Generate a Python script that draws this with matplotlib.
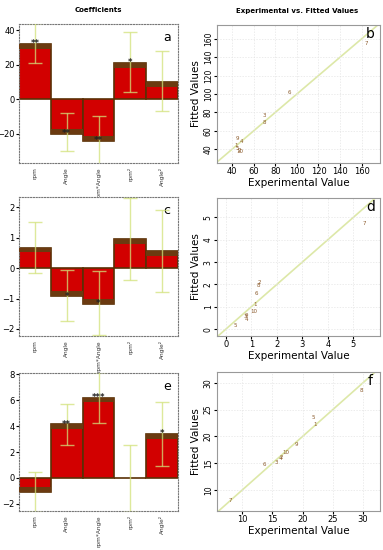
import numpy as np
import matplotlib
matplotlib.use("Agg")
import matplotlib.pyplot as plt

W, H = 383, 550

# coefficient panels (a, c, e)
terms = ["rpm", "Angle", "rpm*Angle", "rpm\u00b2", "Angle\u00b2"]

coef_a = [32, -20, -24, 21, 10]
low_a = [21, -30, -38, 4, -7]
high_a = [44, -8, -10, 39, 28]
stars_a = ["**", "**", "**", "*", ""]

coef_c = [0.67, -0.92, -1.17, 0.95, 0.55]
low_c = [-0.15, -1.75, -2.2, -0.38, -0.78]
high_c = [1.5, -0.07, -0.1, 2.3, 1.9]
stars_c = ["", "*", "*", "", ""]

coef_e = [-1.1, 4.15, 6.2, 0.0, 3.4]
low_e = [-2.6, 2.55, 4.25, -2.6, 0.9]
high_e = [0.45, 5.7, 8.2, 2.55, 5.9]
stars_e = ["", "**", "***", "", "*"]

# experimental vs fitted panels (b, d, f)
run_ids = ["1", "2", "3", "4", "5", "6", "7", "8", "9", "10"]
exp_b = [44, 46.5, 70, 49, 44.5, 93, 164, 70, 45, 47.5]
fit_b = [44.5, 38.5, 77, 48, 40.5, 102, 155, 69, 52, 37.5]

exp_d = [1.15, 1.3, 0.78, 0.8, 0.35, 1.2, 5.45, 1.28, 0.82, 1.1]
fit_d = [1.1, 2.1, 0.55, 0.45, 0.15, 1.6, 4.75, 1.95, 0.6, 0.8]

exp_f = [22.0, 16.5, 15.7, 16.4, 21.8, 13.6, 8.0, 29.8, 19.0, 17.2]
fit_f = [22.3, 16.0, 15.2, 15.8, 23.5, 14.8, 8.0, 28.5, 18.5, 17.0]


def px_axes(fig, x0, y0, x1, y1):
    return fig.add_axes([x0 / W, 1 - y1 / H, (x1 - x0) / W, (y1 - y0) / H])


def coef_panel(ax, coef, low, high, stars, ylim, yticks, letter):
    x = np.arange(len(terms))
    ax.bar(x, coef, width=1.0, color="#d20000", edgecolor="#5a3005",
           linewidth=1.2, zorder=2)
    # darker band at the end of each bar
    band = (ylim[1] - ylim[0]) * 0.035
    for xi, c in zip(x, coef):
        if c == 0:
            continue
        sgn = np.sign(c)
        ax.bar(xi, -sgn * band, bottom=c, width=1.0, color="#6b3a10",
               linewidth=0, zorder=3)
    c = np.array(coef)
    err = [c - np.array(low), np.array(high) - c]
    ax.errorbar(x, c, yerr=err, fmt="none", ecolor="#d2e27a", alpha=0.75,
                elinewidth=1.0, capsize=5, capthick=1.0, zorder=4)
    for xi, ci, s in zip(x, coef, stars):
        if s:
            ax.text(xi, ci, s, ha="center", va="center", fontsize=6,
                    fontweight="bold", color="#222222", zorder=5)
    ax.set_xlim(-0.5, len(terms) - 0.5)
    ax.set_ylim(*ylim)
    ax.set_yticks(yticks)
    ax.set_xticks(x)
    ax.set_xticklabels(terms, rotation=90, fontsize=4.2, color="#333333")
    ax.tick_params(axis="y", labelsize=6, length=2, pad=1)
    ax.tick_params(axis="x", length=0, pad=3)
    for sp in ax.spines.values():
        sp.set_linestyle((0, (1, 1.5)))
        sp.set_color("#777777")
        sp.set_linewidth(0.8)
    ax.text(0.93, 0.9, letter, transform=ax.transAxes, fontsize=9,
            ha="center", va="center")


def fit_panel(ax, ex, fi, xlim, ylim, ticks_x, ticks_y, letter):
    ax.set_xlim(*xlim)
    ax.set_ylim(*ylim)
    lo = min(xlim[0], ylim[0])
    hi = max(xlim[1], ylim[1])
    ax.plot([lo, hi], [lo, hi], color="#dde8a8", linewidth=1.2, zorder=1)
    for e, f, lab in zip(ex, fi, run_ids):
        ax.text(e, f, lab, fontsize=4, color="#8b5a2b", ha="center",
                va="center", zorder=3)
    ax.set_xticks(ticks_x)
    ax.set_yticks(ticks_y)
    ax.grid(True, color="#e4e4e4", linewidth=0.5, linestyle=(0, (2, 2)))
    ax.tick_params(axis="x", labelsize=6, length=2, pad=1)
    ax.tick_params(axis="y", labelsize=5.5, length=2, pad=1, labelrotation=90)
    for lab in ax.get_yticklabels():
        lab.set_va("center")
    for sp in ax.spines.values():
        sp.set_color("#999999")
        sp.set_linewidth(0.8)
    ax.set_xlabel("Experimental Value", fontsize=7.5, labelpad=1)
    ax.set_ylabel("Fitted Values", fontsize=7.5, labelpad=2)
    ax.text(0.94, 0.935, letter, transform=ax.transAxes, fontsize=10,
            ha="center", va="center")


fig = plt.figure(figsize=(W / 100, H / 100), dpi=100)

ax_a = px_axes(fig, 19, 24, 178, 163)
coef_panel(ax_a, coef_a, low_a, high_a, stars_a, (-37, 43.5), [-20, 0, 20, 40], "a")
ax_c = px_axes(fig, 19, 197, 178, 336)
coef_panel(ax_c, coef_c, low_c, high_c, stars_c, (-2.23, 2.33), [-2, -1, 0, 1, 2], "c")
ax_e = px_axes(fig, 19, 373, 178, 511)
coef_panel(ax_e, coef_e, low_e, high_e, stars_e, (-2.55, 8.1), [-2, 0, 2, 4, 6, 8], "e")

ax_b = px_axes(fig, 217, 25, 380, 163)
fit_panel(ax_b, exp_b, fit_b, (26, 177), (25, 175),
          [40, 60, 80, 100, 120, 140, 160], [40, 60, 80, 100, 120, 140, 160], "b")
ax_d = px_axes(fig, 217, 198, 380, 336)
fit_panel(ax_d, exp_d, fit_d, (-0.35, 6.05), (-0.31, 5.87),
          [0, 1, 2, 3, 4, 5], [0, 1, 2, 3, 4, 5], "d")
ax_f = px_axes(fig, 217, 372, 380, 511)
fit_panel(ax_f, exp_f, fit_f, (5.84, 32.8), (6.1, 32),
          [10, 15, 20, 25, 30], [10, 15, 20, 25, 30], "f")

fig.text(98 / W, 1 - 10 / H, "Coefficients", fontsize=5, fontweight="bold",
         ha="center", va="center")
fig.text(297 / W, 1 - 11 / H, "Experimental vs. Fitted Values", fontsize=5,
         fontweight="bold", ha="center", va="center")

fig.savefig("out.png", dpi=100)
